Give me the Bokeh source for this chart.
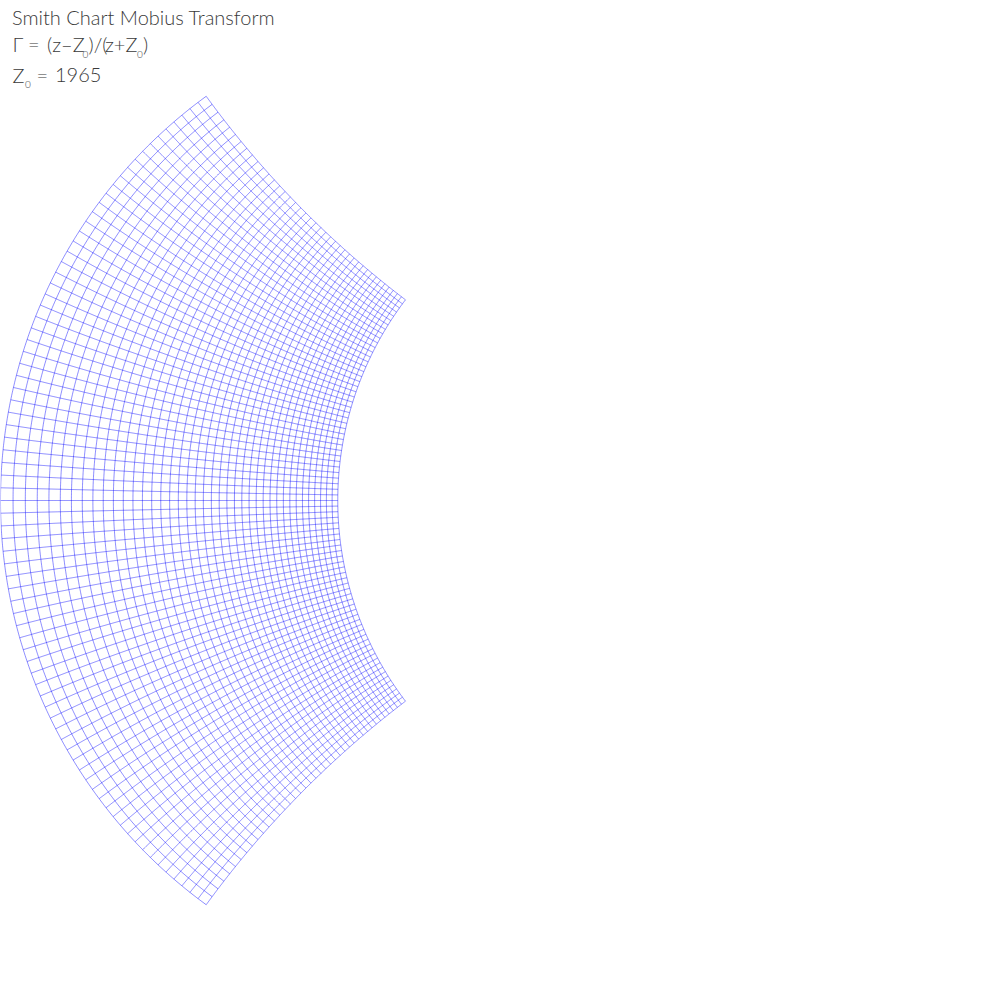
import numpy as np
from bokeh.plotting import figure
from bokeh.models import Label, Range1d
from bokeh.embed import file_html
from bokeh.resources import INLINE

# ---- data ----
Z0 = 1965.0                                      # reference impedance
resistance_values = list(range(0, 1001, 25))     # Re(z) grid lines
reactance_values = list(range(-1000, 1001, 25))  # Im(z) grid lines
re_span = (0.0, 1000.0)
im_span = (-1000.0, 1000.0)

title_main = "Smith Chart Mobius Transform"
sub = "0"

N = 600


def mobius(z):
    return (z - Z0) / (z + Z0)


xs, ys = [], []
t_im = np.linspace(im_span[0], im_span[1], N)
for r in resistance_values:
    g = mobius(r + 1j * t_im)
    xs.append(g.real.tolist())
    ys.append(g.imag.tolist())
t_re = np.linspace(re_span[0], re_span[1], N)
for x in reactance_values:
    g = mobius(t_re + 1j * x)
    xs.append(g.real.tolist())
    ys.append(g.imag.tolist())

p = figure(width=1000, height=1000, x_range=Range1d(-1, 1), y_range=Range1d(-1, 1),
           output_backend="svg", toolbar_location=None, min_border=0,
           outline_line_color=None, background_fill_color="white",
           border_fill_color="white")
p.axis.visible = False
p.grid.visible = False

p.multi_line(xs, ys, line_color="#0000ff", line_alpha=0.45, line_width=1)

FONT = "Lato Light"
COL = "#3a3a3a"
H = 1000


def lab(txt, x, y_base, size):
    corr = 0.43 * size
    p.add_layout(Label(x=x, y=H - (y_base - corr), x_units="screen", y_units="screen",
                       text=txt, text_font=FONT, text_font_size=f"{size}px",
                       text_color=COL, text_baseline="alphabetic", text_align="left"))


BIG, SMALL = 20, 10
lab(title_main, 11.5, 25.5, BIG)
# Γ = (z–Z0)/(z+Z0)
lab("\u0393", 12, 52, BIG)
lab("=", 27.5, 52, BIG)
lab("(z\u2013Z", 46.5, 52, BIG)
lab(sub, 82, 58, SMALL)
lab(")/(", 88, 52, BIG)
lab("z+Z", 104.5, 52, BIG)
lab(sub, 136.5, 58, SMALL)
lab(")", 142.5, 52, BIG)
# Z0 = 1965
lab("Z", 12, 83, BIG)
lab(sub, 24.5, 88, SMALL)
lab("=", 36, 83, BIG)
lab("1965", 54.5, 83, BIG)

open("out.html", "w").write(file_html(p, INLINE))
